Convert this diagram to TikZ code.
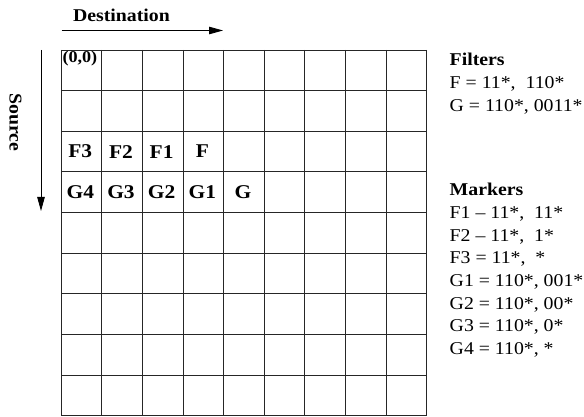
\documentclass[tikz,border=0pt]{standalone}
\usepackage{fontspec}
\setmainfont{Liberation Serif}[FakeStretch=1.1]
\usetikzlibrary{arrows.meta}
\begin{document}
\begin{tikzpicture}[x=1pt,y=-1pt,
  gridline/.style={line width=0.9pt, black!85},
  cell/.style={font=\bfseries\fontsize{19.5}{21}\selectfont, inner sep=0pt},
  corner/.style={font=\bfseries\fontsize{16.5}{18}\selectfont, inner sep=0pt, anchor=north west},
  lbl/.style={font=\fontsize{18}{20}\selectfont, anchor=base west, inner sep=0pt},
  hdr/.style={font=\bfseries\fontsize{18}{20}\selectfont, anchor=base west, inner sep=0pt},
  axislabel/.style={font=\bfseries\fontsize{18}{20}\selectfont, inner sep=0pt},
  axisarrow/.style={line width=0.8pt, -{Triangle[length=14pt,width=7.5pt]}}]
\useasboundingbox (0,0) rectangle (584,417);
\def\cs{40.65}
% grid
\foreach \i in {0,...,9} {
  \draw[gridline] (61+\i*\cs,50) -- (61+\i*\cs,415.85);
  \draw[gridline] (61,50+\i*\cs) -- (426.85,50+\i*\cs);
}
% corner label
\node[corner] (origin) at (62.3,51) {(0,0)};
% F row
\node[cell] (f3) at (80.3,151.6) {F3};
\node[cell] (f2) at (121,151.6) {F2};
\node[cell] (f1) at (161.6,151.6) {F1};
\node[cell] (f)  at (202.3,151.6) {F};
% G row
\node[cell] (g4) at (80.3,192.3) {G4};
\node[cell] (g3) at (121,192.3) {G3};
\node[cell] (g2) at (161.6,192.3) {G2};
\node[cell] (g1) at (202.3,192.3) {G1};
\node[cell] (g)  at (243,192.3) {G};
% axes
\node[axislabel, anchor=base] (dest) at (121.5,21.8) {Destination};
\coordinate (d0) at (61.5,30.5);
\coordinate (d1) at (223,30.5);
\draw[axisarrow] (d0) -- (d1);
\node[axislabel, rotate=-90] (src) at (15.5,122.5) {Source};
\coordinate (s0) at (41,50);
\coordinate (s1) at (41,211);
\draw[axisarrow] (s0) -- (s1);
% filters
\node[hdr] (filters) at (449.5,66) {Filters};
\node[lbl] (ff) at (449.5,88.6) {F = 11*,\ \ 110*};
\node[lbl] (fg) at (449.5,111.2) {G = 110*, 0011*};
% markers
\node[hdr] (markers) at (449.5,196) {Markers};
\node[lbl] (m1) at (449.5,218.6) {F1 – 11*,\ \ 11*};
\node[lbl] (m2) at (449.5,241.2) {F2 – 11*,\ \ 1*};
\node[lbl] (m3) at (449.5,263.8) {F3 = 11*,\ \ *};
\node[lbl] (m4) at (449.5,286.4) {G1 = 110*, 001*};
\node[lbl] (m5) at (449.5,309) {G2 = 110*, 00*};
\node[lbl] (m6) at (449.5,331.6) {G3 = 110*, 0*};
\node[lbl] (m7) at (449.5,354.2) {G4 = 110*, *};
\end{tikzpicture}
\end{document}
